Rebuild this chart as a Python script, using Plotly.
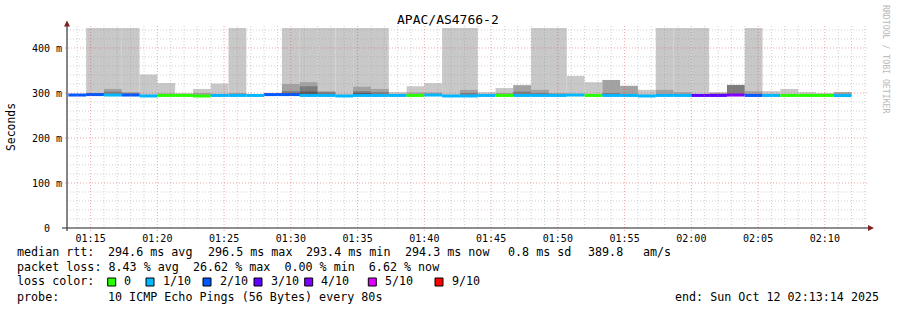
import datetime as dt
import plotly.graph_objects as go

# ---------------- data ----------------
TITLE = "APAC/AS4766-2"
BUCKET_START = dt.datetime(2025, 10, 12, 1, 13, 20)
STEP_S = 80
RANGE_START = dt.datetime(2025, 10, 12, 1, 13, 14)
RANGE_END = dt.datetime(2025, 10, 12, 2, 13, 14)

MEDIAN_MS = [295.5, 296.5, 295.5, 295.5, 293.4, 294.6, 294.6, 293.4, 294.6, 294.6,
             294.6, 296.5, 296.5, 294.6, 294.6, 293.4, 294.6, 294.6, 294.6, 294.6,
             295.5, 293.4, 293.4, 294.6, 294.6, 294.6, 294.6, 294.6, 295.5, 294.6,
             294.6, 294.6, 293.4, 294.6, 294.6, 294.6, 294.6, 295.5, 294.6, 294.6,
             294.6, 294.6, 294.6, 294.3]

LOSS = ["2/10", "2/10", "1/10", "2/10", "1/10", "0", "0", "0", "1/10", "1/10",
        "1/10", "2/10", "2/10", "1/10", "1/10", "1/10", "1/10", "1/10", "1/10", "0",
        "1/10", "1/10", "1/10", "1/10", "0", "1/10", "1/10", "1/10", "1/10", "0",
        "1/10", "1/10", "1/10", "1/10", "1/10", "3/10", "3/10", "4/10", "2/10", "1/10",
        "0", "0", "0", "1/10"]

# smoke layer tops (ms); None = no smoke in that layer
SMOKE_LIGHT = [None, 460, 460, 460, 341, 322, 300, 309, 321, 460,
               None, 300, 460, 460, 460, 460, 460, 460, 302, 315,
               322, 460, 460, 302, 311, 318, 460, 460, 338, 324,
               None, None, 307, 460, 460, 460, 302, None, 460, 304,
               309, 302, 300, None]
SMOKE_MEDIUM = [None, 299, 309, 302, None, 299, None, 300, None, 300,
                None, None, 320, 324, 304, None, 314, 309, None, 301,
                301, None, 307, None, 300, 317, 307, 300, None, None,
                329, 316, None, 307, 302, None, 300, None, 304, None,
                None, None, None, 302]
SMOKE_DARK = [None, None, 303, 299, None, None, None, None, None, None,
              None, None, 304, 315, 302, None, 304, 302, None, None,
              None, None, 300, None, None, 303, 300, None, None, None,
              300, None, None, None, None, None, None, 318, None, None,
              None, None, None, None]
SMOKE_DARKEST = [None, None, None, None, None, None, None, None, None, None,
                 None, None, 300, 303, None, None, 300, None, None, None,
                 None, None, None, None, None, None, None, None, None, None,
                 None, None, None, None, None, None, None, None, None, None,
                 None, None, None, None]

LOSS_LABELS = ["0", "1/10", "2/10", "3/10", "4/10", "5/10", "9/10"]
LOSS_COLORS = ["#26ff00", "#00b8ff", "#0059ff", "#5e00ff", "#7e00ff", "#dd00ff", "#ff0000"]

Y_TICKS = [0, 100, 200, 300, 400]
Y_TICK_TEXT = ["0\u00a0\u00a0", "100 m", "200 m", "300 m", "400 m"]
X_TICK_TEXT = ["01:15", "01:20", "01:25", "01:30", "01:35", "01:40",
               "01:45", "01:50", "01:55", "02:00", "02:05", "02:10"]

STATS_LINE1 = ["median rtt:", "294.6 ms avg", "296.5 ms max", "293.4 ms min",
               "294.3 ms now", "0.8 ms sd", "389.8", "am/s"]
STATS_LINE2 = "packet loss: 8.43 % avg  26.62 % max  0.00 % min  6.62 % now"
PROBE_TEXT = "10 ICMP Echo Pings (56 Bytes) every 80s"
END_TEXT = "end: Sun Oct 12 02:13:14 2025"
WATERMARK = "RRDTOOL / TOBI OETIKER"

# ---------------- layout helpers ----------------
W, H = 897, 310
L, R, T, B = 67, 29, 28, 82
PW = W - L - R
PH = H - T - B
FONT = "DejaVu Sans Mono"


def xp(px):
    return (px - L) / PW


def yp(py):
    return (H - B - py) / PH


color_of = dict(zip(LOSS_LABELS, LOSS_COLORS))
times = [BUCKET_START + dt.timedelta(seconds=STEP_S * (k + 0.5)) for k in range(len(MEDIAN_MS))]
bw = STEP_S * 1000

fig = go.Figure()


def smoke_layer(tops, color):
    xs, base, hh = [], [], []
    for t, m, top in zip(times, MEDIAN_MS, tops):
        if top is None:
            continue
        xs.append(t)
        base.append(m)
        hh.append(top - m)
    fig.add_trace(go.Bar(x=xs, y=hh, base=base, width=bw, marker=dict(color=color, line=dict(width=0)),
                         hoverinfo="skip", showlegend=False))


smoke_layer(SMOKE_LIGHT, "#c8c8c8")
smoke_layer(SMOKE_MEDIUM, "#a2a2a2")
smoke_layer(SMOKE_DARK, "#7c7c7c")
smoke_layer(SMOKE_DARKEST, "#555555")

LINE_H = 6.7
fig.add_trace(go.Bar(x=times, y=[LINE_H] * len(MEDIAN_MS), base=[m - LINE_H / 2 for m in MEDIAN_MS],
                     width=bw, marker=dict(color=[color_of[l] for l in LOSS], line=dict(width=0)),
                     hoverinfo="skip", showlegend=False))

shapes = []
minor_col = "rgba(150,150,150,0.45)"
major_col = "rgba(222,79,79,0.5)"
DASH = "1px,2px"
# vertical grid (every minute, major every 5)
t = RANGE_START.replace(second=0) + dt.timedelta(minutes=1)
while t < RANGE_END:
    major = t.minute % 5 == 0
    shapes.append(dict(type="line", xref="x", yref="paper", x0=t, x1=t,
                       y0=-3 / PH if major else 0, y1=1.01,
                       line=dict(color=major_col if major else minor_col, width=1, dash=DASH),
                       layer="above"))
    t += dt.timedelta(minutes=1)
# horizontal grid
for v in range(20, 445, 20):
    major = v % 100 == 0
    shapes.append(dict(type="line", xref="paper", yref="y", x0=-5 / PW if major else 0, x1=1, y0=v, y1=v,
                       line=dict(color=major_col if major else minor_col, width=1, dash=DASH),
                       layer="above"))
# axes
shapes.append(dict(type="line", xref="paper", yref="paper", x0=xp(62), x1=xp(869), y0=yp(228), y1=yp(228),
                   line=dict(color="#1f1f1f", width=1), layer="above"))
shapes.append(dict(type="line", xref="paper", yref="paper", x0=xp(67), x1=xp(67), y0=yp(231), y1=yp(24),
                   line=dict(color="#444444", width=1.3), layer="above"))
# arrows
shapes.append(dict(type="path", xref="paper", yref="paper",
                   path=f"M {xp(64)},{yp(26.5)} L {xp(70)},{yp(26.5)} L {xp(67)},{yp(20.5)} Z",
                   fillcolor="#802020", line=dict(width=0), layer="above"))
shapes.append(dict(type="path", xref="paper", yref="paper",
                   path=f"M {xp(868)},{yp(225)} L {xp(868)},{yp(231)} L {xp(874)},{yp(228)} Z",
                   fillcolor="#802020", line=dict(width=0), layer="above"))

ann = []


def text(x, y, s, size=11.7, anchor="left", color="black", angle=0):
    ann.append(dict(x=xp(x), y=yp(y), xref="paper", yref="paper", text=s.replace(" ", "\u00a0"),
                    showarrow=False, xanchor=anchor, yanchor="middle", textangle=angle,
                    font=dict(family=FONT, size=size, color=color), borderpad=0))


text(448, 19, TITLE, size=13, anchor="center")
text(11, 127, "Seconds", size=11.4, anchor="center", angle=-90)
text(886, 59, WATERMARK, size=8.2, anchor="center", color="#b8b8b8", angle=90)

# line 1
line1_x = [16, 107.3, 206.5, 305, 404, 507, 587, 642]
for x, s in zip(line1_x, STATS_LINE1):
    text(x, 251.5, s)
text(16, 266.5, STATS_LINE2)
text(16, 281, "loss color:")
sq_x = [107.7, 146, 203, 254, 304.7, 368.3, 435]
for x, lab, col in zip(sq_x, LOSS_LABELS, LOSS_COLORS):
    shapes.append(dict(type="rect", xref="paper", yref="paper", x0=xp(x), x1=xp(x + 8),
                       y0=yp(286), y1=yp(278), fillcolor=col, line=dict(color="black", width=1)))
    text(x + 15.5, 281, lab)
text(16, 296.5, "probe:")
text(107.3, 296.5, PROBE_TEXT)
text(880, 296.5, END_TEXT, anchor="right")

x_tickvals = [dt.datetime(2025, 10, 12, int(s[:2]), int(s[3:])) for s in X_TICK_TEXT]

fig.update_layout(
    width=W, height=H, autosize=False,
    margin=dict(l=L, r=R, t=T, b=B, pad=0),
    paper_bgcolor="white", plot_bgcolor="white",
    barmode="overlay", showlegend=False, hovermode=False,
    shapes=shapes, annotations=ann,
    xaxis=dict(type="date", range=[RANGE_START, RANGE_END], showgrid=False, zeroline=False,
               showline=False, ticks="", tickvals=x_tickvals, ticktext=X_TICK_TEXT,
               tickfont=dict(family=FONT, size=10, color="black"), ticklabelstandoff=3),
    yaxis=dict(range=[0, 444.44], showgrid=False, zeroline=False, showline=False, ticks="",
               tickvals=Y_TICKS, ticktext=Y_TICK_TEXT,
               tickfont=dict(family=FONT, size=10, color="black"), ticklabelstandoff=4),
)

fig.write_html("out.html")
